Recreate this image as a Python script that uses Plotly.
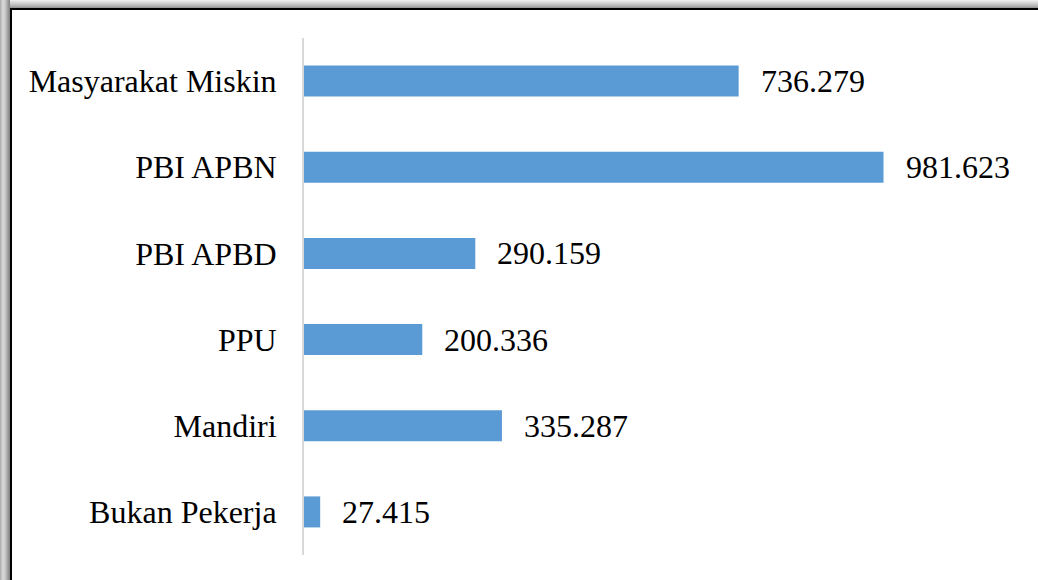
import plotly.graph_objects as go

categories = ["Masyarakat Miskin", "PBI APBN", "PBI APBD", "PPU", "Mandiri", "Bukan Pekerja"]
values = [736279, 981623, 290159, 200336, 335287, 27415]

W, H = 1038, 580
L, R, T, B = 304, 8, 38, 25
pw, ph = W - L - R, H - T - B
xmax = 981623 * pw / 579.5

def px(x):
    return (x - L) / pw

def py(y):
    return (H - B - y) / ph

fig = go.Figure()
fig.add_trace(go.Bar(
    x=values, y=categories, orientation="h",
    marker=dict(color="#5b9bd5", line=dict(width=0)),
    width=0.36, hoverinfo="skip",
))

font = "Liberation Serif, Times New Roman, serif"
for c, v in zip(categories, values):
    fig.add_annotation(
        x=v, y=c, xref="x", yref="y", text=f"{v:,}".replace(",", "."),
        showarrow=False, xanchor="left", yanchor="middle", xshift=20,
        font=dict(family=font, size=32, color="black"),
    )

shapes = []
greys_top = ["#ececec", "#e2e2e2", "#d8d8d8", "#cecece", "#c4c4c4", "#b8b8b8", "#aaaaaa", "#9a9a9a"]
for i, g in enumerate(greys_top):
    shapes.append(dict(type="rect", xref="paper", yref="paper",
                       x0=px(0), x1=px(W), y0=py(i), y1=py(i + 1),
                       fillcolor=g, line=dict(width=0), layer="above"))
greys_left = ["#b0b0b0", "#c4c4c4", "#d0d0d0", "#d6d6d6", "#cfcfcf", "#c2c2c2", "#b4b4b4", "#a4a4a4", "#949494", "#888888"]
for i, g in enumerate(greys_left):
    shapes.append(dict(type="rect", xref="paper", yref="paper",
                       x0=px(i), x1=px(i + 1), y0=py(0), y1=py(H),
                       fillcolor=g, line=dict(width=0), layer="above"))
shapes.append(dict(type="rect", xref="paper", yref="paper",
                   x0=px(10), x1=px(W), y0=py(8), y1=py(10),
                   fillcolor="#000000", line=dict(width=0), layer="above"))
shapes.append(dict(type="rect", xref="paper", yref="paper",
                   x0=px(10), x1=px(12), y0=py(8), y1=py(H),
                   fillcolor="#000000", line=dict(width=0), layer="above"))

fig.update_layout(
    width=W, height=H,
    margin=dict(l=L, r=R, t=T, b=B, pad=0),
    paper_bgcolor="white", plot_bgcolor="white",
    showlegend=False, shapes=shapes,
    xaxis=dict(range=[0, xmax], showgrid=False, zeroline=False,
               showticklabels=False, showline=False, fixedrange=True),
    yaxis=dict(autorange="reversed", showgrid=False, zeroline=False,
               showline=True, linecolor="#d9d9d9", linewidth=2,
               ticks="", ticklabelstandoff=19,
               tickfont=dict(family=font, size=32, color="black")),
)

fig.write_html("out.html", config={"displayModeBar": False},
               post_script="document.body.style.margin='0';document.body.style.overflow='hidden';")
